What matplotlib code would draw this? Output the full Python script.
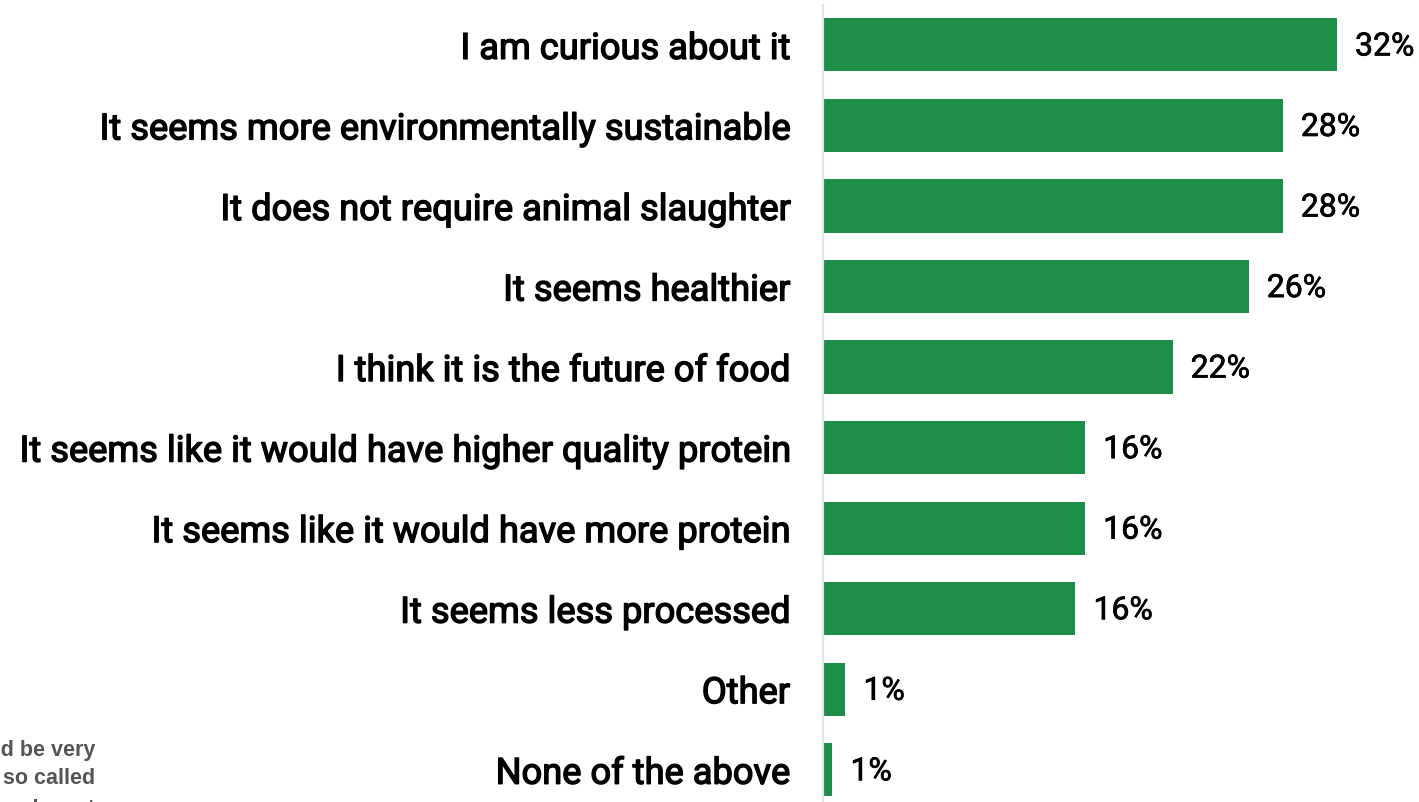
import matplotlib.pyplot as plt
import matplotlib.patheffects as pe
import numpy as np

# reasons for wanting to try it, share of respondents (%)
reasons = ["I am curious about it",
           "It seems more environmentally sustainable",
           "It does not require animal slaughter",
           "It seems healthier",
           "I think it is the future of food",
           "It seems like it would have higher quality protein",
           "It seems like it would have more protein",
           "It seems less processed",
           "Other",
           "None of the above"]
shares = [31.75, 28.4, 28.4, 26.3, 21.6, 16.2, 16.2, 15.6, 1.4, 0.6]

note_lines = ["...this alternative would be very",
              "popular, so called",
              "cultivated or cell-cultured meat"]

green = '#1E8F48'
# thin outline to thicken the regular weight a little
heavy = [pe.withStroke(linewidth=1.0, foreground='black')]
semi = [pe.withStroke(linewidth=0.5, foreground='black')]

fig = plt.figure(figsize=(14.19, 8.03), dpi=100)
W, H = 1419, 803
x0 = 822.7
top_px, bot_px = 5.6, 811.0
ax = fig.add_axes([x0 / W, (H - bot_px) / H, 1 - x0 / W, (bot_px - top_px) / H])

y = np.arange(len(reasons))
ax.barh(y, shares, height=0.66, color=green)
ax.set_ylim(len(reasons) - 0.5, -0.5)
ax.set_xlim(0, (W - x0) / 16.2)

for s in ['top', 'right', 'bottom']:
    ax.spines[s].set_visible(False)
ax.spines['left'].set_color('#DCE6F2')
ax.spines['left'].set_linewidth(1.6)
ax.set_xticks([])
ax.set_yticks(y)
labels = ax.set_yticklabels(reasons, fontsize=26.1, fontfamily=['Roboto', 'DejaVu Sans'])
for t in labels:
    t.set_path_effects(heavy)
ax.tick_params(axis='y', length=0, pad=23.5)

for yi, v in zip(y, shares):
    ax.annotate(f"{v:.0f}%", (v, yi), xytext=(13, -1.5), textcoords='offset points',
                ha='left', va='center', fontsize=23,
                family=['Roboto', 'DejaVu Sans'], path_effects=semi)

# footnote running off the left edge
for i, line in enumerate(note_lines):
    fig.text(95 / W, 1 - (756 + 28 * i + 3 * (i == 2)) / H, line, ha='right', va='baseline',
             fontsize=15.5, fontweight='bold', color='#555555', family='Liberation Sans')

fig.savefig('out.png', dpi=100)
